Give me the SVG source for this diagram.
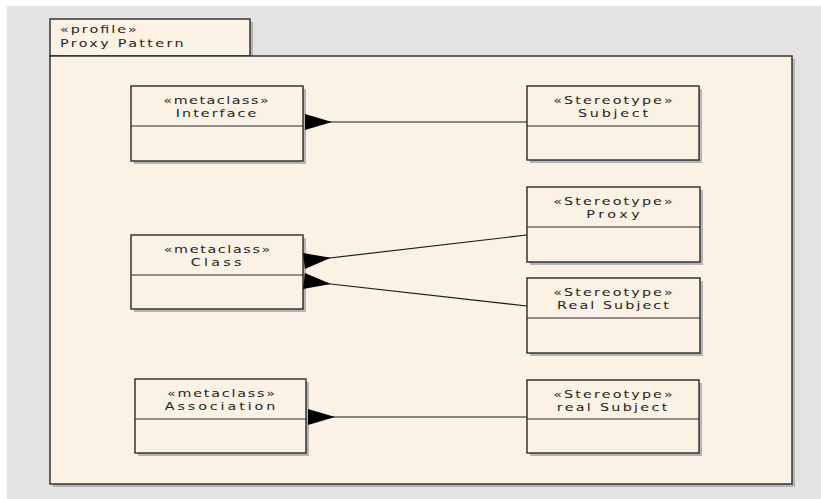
<svg xmlns="http://www.w3.org/2000/svg" width="821" height="499" viewBox="0 0 821 499">
<style>
.bg{fill:#e3e3e3}
.shadow{fill:#b4b4b4}
.box{fill:#fbf1e4;stroke:#2a2a2a;stroke-width:1.4}
.div{stroke:#2a2a2a;stroke-width:1.2}
.t{font-family:"DejaVu Sans","Liberation Sans",sans-serif;font-size:11px;fill:#1e1e1e;text-anchor:middle}
.tl{font-family:"DejaVu Sans","Liberation Sans",sans-serif;font-size:11px;fill:#1e1e1e}
.conn{stroke:#1a1a1a;stroke-width:1.2;fill:none;marker-end:url(#arr)}
</style>
<defs>
<marker id="arr" markerUnits="userSpaceOnUse" markerWidth="30" markerHeight="18" refX="27" refY="8" orient="auto">
<path d="M27,0 L0,8 L27,16 Z" fill="#000"/>
</marker>
</defs>
<rect x="0" y="0" width="821" height="499" fill="#ffffff"/>
<rect class="bg" x="7" y="6" width="814" height="493"/>

<g id="package">
<rect class="shadow" x="53" y="22" width="200" height="37"/>
<rect class="shadow" x="53" y="59" width="742" height="428"/>
<rect class="box" x="50" y="19" width="200" height="37"/>
<rect class="box" x="50" y="56" width="742" height="428"/>
<text class="tl" transform="translate(60,33) scale(1.3,1)" textLength="59" lengthAdjust="spacing">«profile»</text>
<text class="tl" transform="translate(60,47) scale(1.3,1)" textLength="95" lengthAdjust="spacing">Proxy Pattern</text>
</g>

<g id="interface">
<rect class="shadow" x="134" y="89" width="172" height="75"/>
<rect class="box" x="131" y="86" width="172" height="75"/>
<line class="div" x1="131" y1="126" x2="303" y2="126"/>
<text class="t" transform="translate(216,104) scale(1.3,1)" textLength="81" lengthAdjust="spacing">«metaclass»</text>
<text class="t" transform="translate(216,117) scale(1.3,1)" textLength="62" lengthAdjust="spacing">Interface</text>
</g>

<g id="subject">
<rect class="shadow" x="530" y="89" width="172" height="74"/>
<rect class="box" x="527" y="86" width="172" height="74"/>
<line class="div" x1="527" y1="126" x2="699" y2="126"/>
<text class="t" transform="translate(613,104) scale(1.3,1)" textLength="92" lengthAdjust="spacing">«Stereotype»</text>
<text class="t" transform="translate(613,117) scale(1.3,1)" textLength="54" lengthAdjust="spacing">Subject</text>
</g>

<g id="class">
<rect class="shadow" x="134" y="238" width="172" height="74"/>
<rect class="box" x="131" y="235" width="172" height="74"/>
<line class="div" x1="131" y1="275" x2="303" y2="275"/>
<text class="t" transform="translate(217,253) scale(1.3,1)" textLength="82" lengthAdjust="spacing">«metaclass»</text>
<text class="t" transform="translate(216,266) scale(1.3,1)" textLength="39" lengthAdjust="spacing">Class</text>
</g>

<g id="proxy">
<rect class="shadow" x="530" y="190" width="173" height="75"/>
<rect class="box" x="527" y="187" width="173" height="75"/>
<line class="div" x1="527" y1="227" x2="700" y2="227"/>
<text class="t" transform="translate(613,205) scale(1.3,1)" textLength="92" lengthAdjust="spacing">«Stereotype»</text>
<text class="t" transform="translate(613,218) scale(1.3,1)" textLength="41" lengthAdjust="spacing">Proxy</text>
</g>

<g id="realSubject">
<rect class="shadow" x="530" y="281" width="173" height="75"/>
<rect class="box" x="527" y="278" width="173" height="75"/>
<line class="div" x1="527" y1="318" x2="700" y2="318"/>
<text class="t" transform="translate(613,296) scale(1.3,1)" textLength="92" lengthAdjust="spacing">«Stereotype»</text>
<text class="t" transform="translate(613,309) scale(1.3,1)" textLength="86" lengthAdjust="spacing">Real Subject</text>
</g>

<g id="association">
<rect class="shadow" x="138" y="382" width="171" height="74"/>
<rect class="box" x="135" y="379" width="171" height="74"/>
<line class="div" x1="135" y1="419" x2="306" y2="419"/>
<text class="t" transform="translate(221,397) scale(1.3,1)" textLength="83" lengthAdjust="spacing">«metaclass»</text>
<text class="t" transform="translate(220,410) scale(1.3,1)" textLength="85" lengthAdjust="spacing">Association</text>
</g>

<g id="realSubject2">
<rect class="shadow" x="530" y="383" width="172" height="73"/>
<rect class="box" x="527" y="380" width="172" height="73"/>
<line class="div" x1="527" y1="419" x2="699" y2="419"/>
<text class="t" transform="translate(613,398) scale(1.3,1)" textLength="92" lengthAdjust="spacing">«Stereotype»</text>
<text class="t" transform="translate(612,411) scale(1.3,1)" textLength="85" lengthAdjust="spacing">real Subject</text>
</g>

<g id="connectors">
<path class="conn" d="M527,122 L305,122"/>
<path class="conn" d="M527,235 L304,261"/>
<path class="conn" d="M527,306 L304,281"/>
<path class="conn" d="M527,417 L308,417"/>
</g>
</svg>
